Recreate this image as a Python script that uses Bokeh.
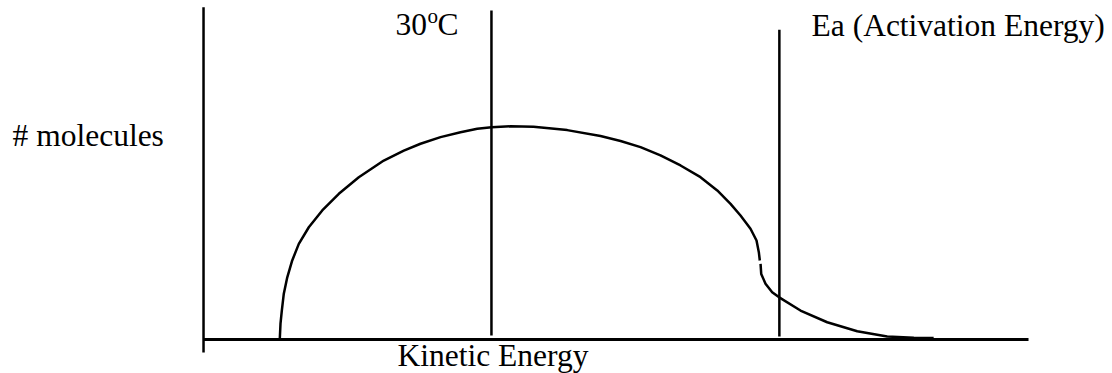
from bokeh.plotting import figure
from bokeh.models import Range1d
from bokeh.core.properties import value
from bokeh.embed import file_html
from bokeh.resources import INLINE

# ---- data (kinetic energy, number of molecules) ----
curve_a_x = [9.25, 9.33, 9.49, 9.73, 10.15, 10.75, 11.55, 12.76, 14.39, 16.40,
             18.82, 21.85, 24.28, 26.30, 28.73, 31.15, 33.18, 34.91, 37.21, 40.0,
             44.08, 48.12, 50.55, 52.97, 55.39, 57.82, 60.24, 62.27, 63.88, 65.09,
             66.30, 67.03, 67.31, 67.43]
curve_a_y = [0.7, 7.4, 13.6, 21.5, 29.2, 37.1, 44.9, 52.7, 60.6, 68.4,
             76.2, 84.0, 88.7, 91.9, 95.0, 97.3, 98.9, 99.7, 100.1, 99.9,
             98.3, 95.5, 93.2, 90.3, 86.4, 81.7, 76.2, 70.0, 63.7, 58.2,
             52.0, 46.5, 41.0, 37.1]
curve_b_x = [67.52, 67.60, 68.12, 68.93, 69.73, 72.36, 75.6, 79.24, 82.87, 86.1, 88.5]
curve_b_y = [35.5, 30.8, 26.2, 22.2, 19.9, 13.6, 8.1, 3.9, 1.4, 0.8, 0.7]

temp_x = 34.9      # 30 oC reference line
ea_x = 69.8        # activation energy line
energy_max = 100   # end of the energy axis

FONT = value("Liberation Serif")

p = figure(width=1112, height=373, output_backend="svg", toolbar_location=None,
           x_range=Range1d(-24.61, 110.18), y_range=Range1d(-15.96, 159.15),
           min_border=0, min_border_left=0, min_border_right=0,
           min_border_top=0, min_border_bottom=0)
p.axis.visible = False
p.grid.visible = False
p.outline_line_color = None
p.background_fill_color = "white"
p.border_fill_color = "white"

# axes drawn as lines
p.segment(x0=[0], y0=[-6.1], x1=[0], y1=[156.0], line_color="black", line_width=2.5)
p.segment(x0=[0], y0=[0], x1=[energy_max], y1=[0], line_color="black", line_width=3)

# reference lines
p.segment(x0=[temp_x], y0=[1.9], x1=[temp_x], y1=[154.5], line_color="black", line_width=2.5)
p.segment(x0=[ea_x], y0=[1.4], x1=[ea_x], y1=[145.4], line_color="black", line_width=2.5)

# distribution curve (two strokes, small gap as in the sketch)
p.line(curve_a_x, curve_a_y, line_color="black", line_width=2.5, line_join="round")
p.line(curve_b_x, curve_b_y, line_color="black", line_width=2.5, line_join="round")

fs = "31.5px"
p.text(x=[-23.15], y=[95.8], text=["# molecules"], text_font=FONT, text_font_size=fs,
       text_color="black", text_align="left", text_baseline="alphabetic")
p.text(x=[23.27], y=[147.7], text=["30"], text_font=FONT, text_font_size=fs,
       text_color="black", text_align="left", text_baseline="alphabetic")
p.text(x=[23.27], y=[147.7], text=["o"], x_offset=32, y_offset=-8.5, text_font=FONT,
       text_font_size="21px", text_color="black", text_align="left", text_baseline="alphabetic")
p.text(x=[23.27], y=[147.7], text=["C"], x_offset=42, text_font=FONT, text_font_size=fs,
       text_color="black", text_align="left", text_baseline="alphabetic")
p.text(x=[73.7], y=[147.4], text=["Ea (Activation Energy)"], text_font=FONT, text_font_size=fs,
       text_color="black", text_align="left", text_baseline="alphabetic")
p.text(x=[23.5], y=[-7.5], text=["Kinetic Energy"], text_font=FONT, text_font_size=fs,
       text_color="black", text_align="left", text_baseline="alphabetic")

open("out.html", "w").write(file_html(p, INLINE))
